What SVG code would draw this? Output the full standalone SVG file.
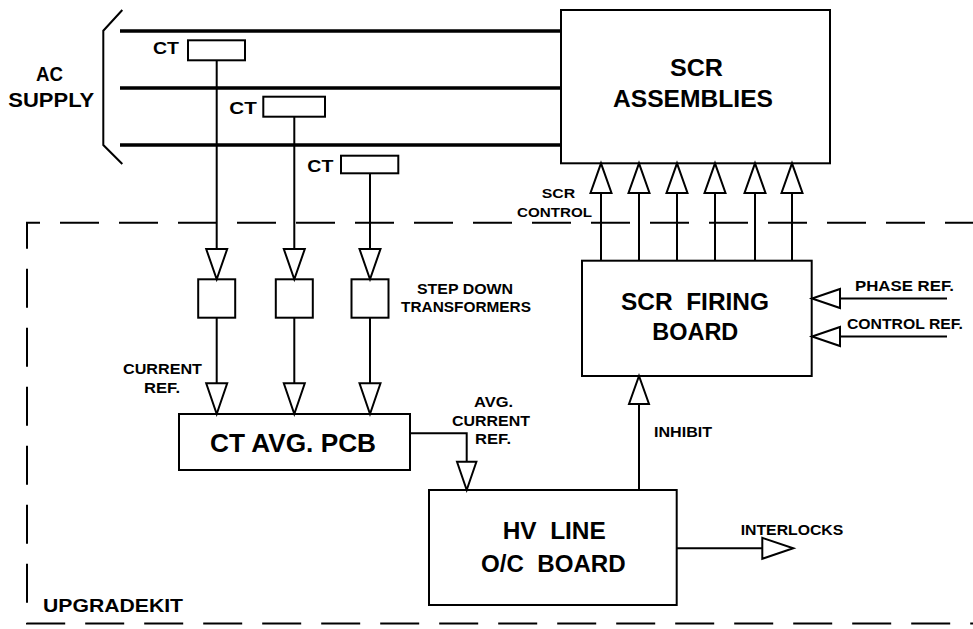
<svg xmlns="http://www.w3.org/2000/svg" width="973" height="629" viewBox="0 0 973 629">
<style>
  .bg { fill: #ffffff; }
  .box { fill: #ffffff; stroke: #000; stroke-width: 2; }
  .ln { fill: none; stroke: #000; stroke-width: 2; }
  .bus { fill: none; stroke: #000; stroke-width: 3.5; }
  .ah { fill: #ffffff; stroke: #000; stroke-width: 2; stroke-linejoin: miter; }
  .dash { fill: none; stroke: #000; stroke-width: 2; stroke-dasharray: 39 20; stroke-dashoffset: 11; }
  text { font-family: "Liberation Sans", Arial, sans-serif; font-weight: bold; fill: #000; }
  .big { font-size: 23px; }
  .sm { font-size: 15.5px; }
  .xs { font-size: 13.5px; }
  .ct { font-size: 17px; }
  .ac { font-size: 20px; }
</style>
<rect class="bg" x="0" y="0" width="973" height="629"/>

<g id="upgrade-kit">
  <path class="dash" d="M973,222.7 L27,222.7 L27,623.5 L973,623.5"/>
  <text x="43" y="611.7" font-size="19" textLength="140" lengthAdjust="spacingAndGlyphs">UPGRADEKIT</text>
</g>

<g id="ac-supply">
  <path class="ln" d="M122.3,10 L103.3,30.7 L103.3,145 L122.3,164"/>
  <path class="bus" d="M120,31 H561 M120,88 H561 M120,145 H561"/>
  <text class="ac" x="36" y="80.7" textLength="27" lengthAdjust="spacingAndGlyphs">AC</text>
  <text class="ac" x="8.3" y="107.3" textLength="86" lengthAdjust="spacingAndGlyphs">SUPPLY</text>
</g>

<g id="ct1">
  <rect class="box" x="188" y="40.3" width="57" height="20"/>
  <text class="ct" x="153" y="54.3" textLength="26" lengthAdjust="spacingAndGlyphs">CT</text>
</g>
<g id="ct2">
  <rect class="box" x="263.3" y="96.7" width="61.7" height="20"/>
  <text class="ct" x="229.3" y="114.3" textLength="27.4" lengthAdjust="spacingAndGlyphs">CT</text>
</g>
<g id="ct3">
  <rect class="box" x="341" y="155.7" width="57.3" height="17.6"/>
  <text class="ct" x="307.3" y="171.7" textLength="26" lengthAdjust="spacingAndGlyphs">CT</text>
</g>

<g id="scr-assemblies">
  <rect class="box" x="561" y="10" width="269" height="153.3"/>
  <text class="big" x="670" y="76" font-size="22" textLength="53" lengthAdjust="spacingAndGlyphs">SCR</text>
  <text class="big" x="613" y="106.7" font-size="22" textLength="160" lengthAdjust="spacingAndGlyphs">ASSEMBLIES</text>
</g>

<g id="transformer1"><rect class="box" x="198.2" y="279.3" width="37" height="38.4"/></g>
<g id="transformer2"><rect class="box" x="275.8" y="279.3" width="37" height="38.4"/></g>
<g id="transformer3"><rect class="box" x="351.5" y="279.3" width="37" height="38.4"/></g>
<g id="transformers-label">
  <text class="sm" x="417" y="294" textLength="96" lengthAdjust="spacingAndGlyphs">STEP DOWN</text>
  <text class="sm" x="401" y="312" textLength="130" lengthAdjust="spacingAndGlyphs">TRANSFORMERS</text>
</g>

<g id="ct-avg-pcb">
  <rect class="box" x="179" y="414" width="231" height="56"/>
  <text x="210" y="451.7" font-size="25" textLength="166" lengthAdjust="spacingAndGlyphs">CT AVG. PCB</text>
</g>

<g id="scr-firing-board">
  <rect class="box" x="582" y="260.7" width="229.7" height="115.3"/>
  <text class="big" x="621" y="310" xml:space="preserve" textLength="148" lengthAdjust="spacingAndGlyphs">SCR  FIRING</text>
  <text class="big" x="652.3" y="340" textLength="86" lengthAdjust="spacingAndGlyphs">BOARD</text>
</g>

<g id="hv-line-oc-board">
  <rect class="box" x="429" y="490" width="247.7" height="115"/>
  <text x="502.7" y="539" font-size="24" xml:space="preserve" textLength="103" lengthAdjust="spacingAndGlyphs">HV  LINE</text>
  <text x="481" y="572.3" font-size="24" xml:space="preserve" textLength="144.7" lengthAdjust="spacingAndGlyphs">O/C  BOARD</text>
</g>

<g id="connectors">
  <!-- CT to transformers -->
  <path class="ln" d="M216.7,60.3 V249 M294.3,116.7 V249 M370,173.3 V249"/>
  <polygon class="ah" points="206.2,249 227.2,249 216.7,279.3"/>
  <polygon class="ah" points="283.8,249 304.8,249 294.3,279.3"/>
  <polygon class="ah" points="359.5,249 380.5,249 370,279.3"/>
  <!-- transformers to CT AVG -->
  <path class="ln" d="M216.7,317.7 V383.3 M294.3,317.7 V383.3 M370,317.7 V383.3"/>
  <polygon class="ah" points="206.2,383.3 227.2,383.3 216.7,414"/>
  <polygon class="ah" points="283.8,383.3 304.8,383.3 294.3,414"/>
  <polygon class="ah" points="359.5,383.3 380.5,383.3 370,414"/>
  <text class="sm" x="123" y="374" textLength="79" lengthAdjust="spacingAndGlyphs">CURRENT</text>
  <text class="sm" x="144" y="393.3" textLength="36" lengthAdjust="spacingAndGlyphs">REF.</text>
  <!-- avg current ref -->
  <path class="ln" d="M410,433.3 H466.7 V461.7"/>
  <polygon class="ah" points="457,461.7 476.4,461.7 466.7,490"/>
  <text class="sm" x="474" y="406.7" textLength="39" lengthAdjust="spacingAndGlyphs">AVG.</text>
  <text class="sm" x="452" y="425.7" textLength="78" lengthAdjust="spacingAndGlyphs">CURRENT</text>
  <text class="sm" x="475" y="444.3" textLength="36" lengthAdjust="spacingAndGlyphs">REF.</text>
  <!-- inhibit -->
  <path class="ln" d="M639,490 V404"/>
  <polygon class="ah" points="629,404 649,404 639,376"/>
  <text class="sm" x="654" y="437" textLength="58" lengthAdjust="spacingAndGlyphs">INHIBIT</text>
  <!-- interlocks -->
  <path class="ln" d="M676.7,548.3 H762.3"/>
  <polygon class="ah" points="762.3,537.8 762.3,558.8 793.3,548.3"/>
  <text class="sm" x="740.7" y="535" textLength="102.6" lengthAdjust="spacingAndGlyphs">INTERLOCKS</text>
  <!-- SCR control -->
  <path class="ln" d="M601,260.7 V193 M639,260.7 V193 M677,260.7 V193 M715,260.7 V193 M755,260.7 V193 M792,260.7 V193"/>
  <polygon class="ah" points="590.5,193 611.5,193 601,163.3"/>
  <polygon class="ah" points="628.5,193 649.5,193 639,163.3"/>
  <polygon class="ah" points="666.5,193 687.5,193 677,163.3"/>
  <polygon class="ah" points="704.5,193 725.5,193 715,163.3"/>
  <polygon class="ah" points="744.5,193 765.5,193 755,163.3"/>
  <polygon class="ah" points="781.5,193 802.5,193 792,163.3"/>
  <text class="xs" x="541.7" y="198" textLength="33.5" lengthAdjust="spacingAndGlyphs">SCR</text>
  <text class="xs" x="517" y="217" textLength="75" lengthAdjust="spacingAndGlyphs">CONTROL</text>
  <!-- phase / control ref -->
  <path class="ln" d="M947,298.5 H840 M947,336.5 H840"/>
  <polygon class="ah" points="840,289 840,308 812,298.5"/>
  <polygon class="ah" points="840,327 840,346 812,336.5"/>
  <text class="sm" x="855" y="291" textLength="99" lengthAdjust="spacingAndGlyphs">PHASE REF.</text>
  <text class="sm" x="847" y="329" textLength="116" lengthAdjust="spacingAndGlyphs">CONTROL REF.</text>
</g>
</svg>
